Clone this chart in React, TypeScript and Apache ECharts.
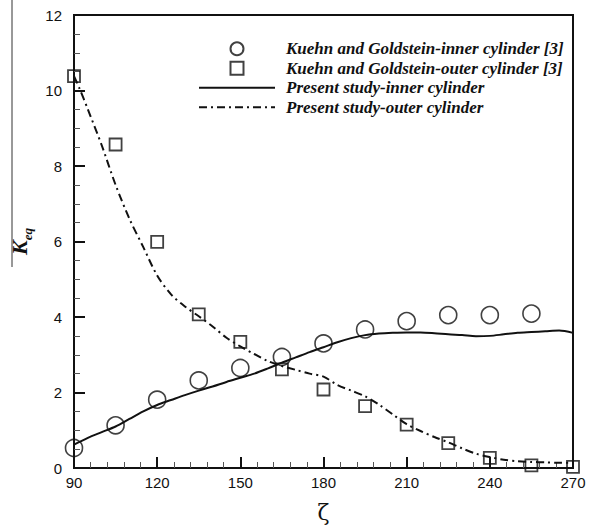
import React, { useEffect, useRef } from "react";
import * as echarts from "echarts";

const seriesNames = [
  "Kuehn and Goldstein-inner cylinder [3]",
  "Kuehn and Goldstein-outer cylinder [3]",
  "Present study-inner cylinder",
  "Present study-outer cylinder",
];

const expInner: [number, number][] = [
  [90, 0.53], [105, 1.13], [120, 1.81], [135, 2.32], [150, 2.65], [165, 2.94],
  [180, 3.3], [195, 3.67], [210, 3.89], [225, 4.05], [240, 4.05], [255, 4.09],
];

const expOuter: [number, number][] = [
  [90, 10.38], [105, 8.57], [120, 5.99], [135, 4.07], [150, 3.34], [165, 2.61],
  [180, 2.08], [195, 1.64], [210, 1.15], [225, 0.66], [240, 0.27], [255, 0.07], [270, 0.03],
];

const simInner: [number, number][] = [
  [90, 0.62], [95, 0.8], [100, 0.95], [105, 1.1], [110, 1.3], [115, 1.5], [120, 1.67],
  [125, 1.8], [130, 1.93], [135, 2.05], [140, 2.16], [145, 2.28], [150, 2.39], [155, 2.5],
  [160, 2.64], [165, 2.79], [170, 2.93], [175, 3.07], [180, 3.2], [185, 3.33], [190, 3.44],
  [195, 3.52], [200, 3.56], [205, 3.58], [210, 3.59], [215, 3.59], [220, 3.57], [225, 3.54],
  [230, 3.52], [235, 3.49], [240, 3.5], [245, 3.54], [250, 3.58], [255, 3.6], [260, 3.62],
  [265, 3.64], [270, 3.58],
];

const simOuter: [number, number][] = [
  [90, 10.38], [92, 10.05], [95, 9.5], [100, 8.55], [105, 7.5], [110, 6.6], [115, 5.85],
  [120, 5.1], [125, 4.6], [130, 4.28], [135, 4.02], [140, 3.75], [145, 3.45], [150, 3.22],
  [155, 3.02], [160, 2.83], [165, 2.7], [170, 2.6], [175, 2.5], [180, 2.42], [185, 2.2],
  [190, 2.05], [195, 1.9], [200, 1.68], [205, 1.42], [210, 1.16], [215, 0.98], [220, 0.82],
  [225, 0.68], [230, 0.52], [235, 0.38], [240, 0.29], [245, 0.22], [250, 0.18], [255, 0.16],
  [260, 0.15], [265, 0.14], [270, 0.14],
];

const INK = "#111111";
const HIDDEN_SYMBOL = { color: "rgba(0,0,0,0)", borderWidth: 0, borderColor: "rgba(0,0,0,0)" };

export default function App() {
  const ref = useRef<HTMLDivElement>(null);
  useEffect(() => {
    if (!ref.current) return;
    const chart = echarts.init(ref.current, null, { renderer: "svg" });
    chart.setOption({
      animation: false,
      backgroundColor: "#ffffff",
      grid: {
        left: 74,
        right: 16,
        top: 15,
        bottom: 60,
        show: true,
        borderColor: INK,
        borderWidth: 2,
        containLabel: false,
        outerBoundsMode: "none",
      },
      legend: {
        orient: "vertical",
        left: 193,
        top: 35,
        itemWidth: 76,
        itemHeight: 13,
        itemGap: 2,
        symbolKeepAspect: true,
        data: [
          { name: seriesNames[0], icon: "circle" },
          { name: seriesNames[1], icon: "path://M0,0L10,0L10,10L0,10Z" },
          { name: seriesNames[2], itemStyle: HIDDEN_SYMBOL },
          { name: seriesNames[3], itemStyle: HIDDEN_SYMBOL },
        ],
        textStyle: {
          fontFamily: "Liberation Serif",
          fontStyle: "italic",
          fontWeight: "bold",
          fontSize: 17,
          lineHeight: 17.5,
          padding: [0, 0, 0, 6],
          color: INK,
        },
      },
      xAxis: {
        type: "value",
        min: 90,
        max: 270,
        interval: 30,
        name: "ζ",
        nameLocation: "middle",
        nameGap: 33,
        nameTextStyle: { fontSize: 22, lineHeight: 22, color: INK, fontFamily: "DejaVu Serif" },
        axisLine: { lineStyle: { color: INK, width: 2 } },
        axisTick: { inside: true, length: 11, lineStyle: { color: INK, width: 2 } },
        minorTick: { show: true, splitNumber: 5, length: 6, lineStyle: { color: "#555", width: 1 } },
        splitLine: { show: false },
        axisLabel: { color: INK, fontSize: 15, fontFamily: "Liberation Sans", margin: 7 },
      },
      yAxis: {
        type: "value",
        min: 0,
        max: 12,
        interval: 2,
        name: "{k|K}{s|eq}",
        nameLocation: "middle",
        nameGap: 44,
        nameRotate: 90,
        nameTextStyle: {
          color: INK,
          rich: {
            k: {
              fontFamily: "Liberation Serif",
              fontStyle: "italic",
              fontWeight: "bold",
              fontSize: 22,
              lineHeight: 26,
              verticalAlign: "bottom",
              color: INK,
            },
            s: {
              fontFamily: "Liberation Serif",
              fontStyle: "italic",
              fontWeight: "bold",
              fontSize: 13,
              lineHeight: 26,
              verticalAlign: "bottom",
              padding: [0, 0, -4, 0],
              color: INK,
            },
          },
        },
        axisLine: { lineStyle: { color: INK, width: 2 } },
        axisTick: { inside: true, length: 11, lineStyle: { color: INK, width: 2 } },
        minorTick: { show: true, splitNumber: 4, length: 6, lineStyle: { color: "#555", width: 1 } },
        splitLine: { show: false },
        axisLabel: { color: INK, fontSize: 15, fontFamily: "Liberation Sans", margin: 12 },
      },
      graphic: [
        {
          type: "line",
          shape: { x1: 12, y1: 0, x2: 12, y2: 267 },
          style: { stroke: "#333", lineWidth: 1 },
        },
      ],
      series: [
        {
          name: seriesNames[0],
          type: "scatter",
          data: expInner,
          symbol: "circle",
          symbolSize: 17,
          itemStyle: { color: "rgba(255,255,255,0)", borderColor: INK, borderWidth: 1.6 },
          z: 3,
        },
        {
          name: seriesNames[1],
          type: "scatter",
          data: expOuter,
          symbol: "rect",
          symbolSize: 12,
          itemStyle: { color: "rgba(255,255,255,0)", borderColor: INK, borderWidth: 1.8 },
          z: 3,
        },
        {
          name: seriesNames[2],
          type: "line",
          data: simInner,
          smooth: 0.3,
          symbol: "none",
          lineStyle: { color: INK, width: 2 },
          itemStyle: { color: INK },
          z: 2,
        },
        {
          name: seriesNames[3],
          type: "line",
          data: simOuter,
          smooth: 0.3,
          symbol: "none",
          lineStyle: { color: INK, width: 2, type: [8, 4, 2, 4] },
          itemStyle: { color: INK },
          z: 2,
        },
      ],
    });
    return () => chart.dispose();
  }, []);
  return (
    <div
      ref={ref}
      style={{ position: "absolute", left: 0, top: 0, width: 589, height: 528 }}
    />
  );
}
